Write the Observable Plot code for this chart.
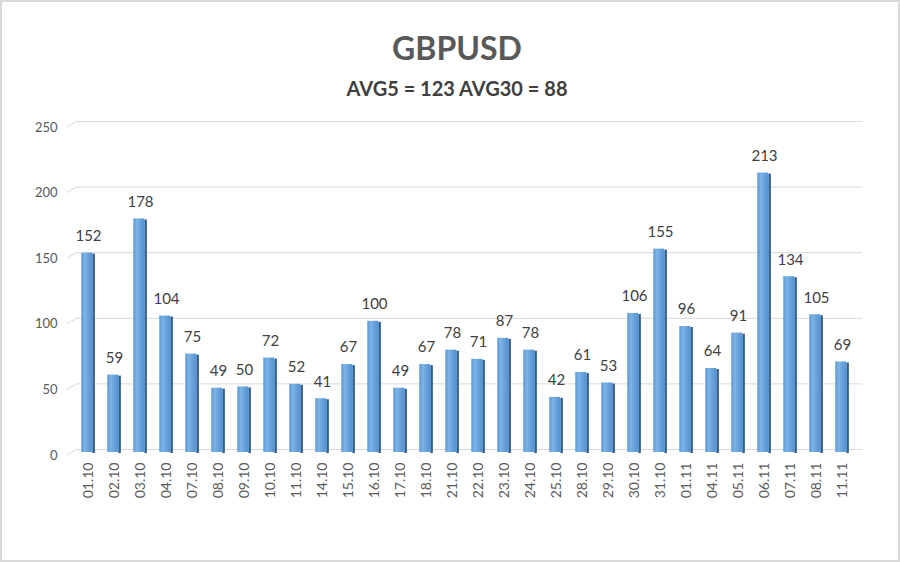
<!DOCTYPE html>
<html>
<head>
<meta charset="utf-8">
<script src="https://cdn.jsdelivr.net/npm/d3@7"></script>
<script src="https://cdn.jsdelivr.net/npm/@observablehq/plot@0.6"></script>
<style>
  html, body { margin: 0; padding: 0; background: #fff; }
  #wrap { position: relative; width: 900px; height: 562px; overflow: hidden; font-family: Lato, "Open Sans", sans-serif; background: #fff; }
  #frame { position: absolute; left: 0; top: 0; width: 900px; height: 562px; box-sizing: border-box; border: 2px solid #d9d9d9; pointer-events: none; }
  #head { position: relative; height: 110px; }
  #title { position: absolute; left: 0; width: 914px; top: 28px; line-height: 40px; text-align: center; font-size: 32px; font-weight: 700; color: #595959; }
  #sub { position: absolute; left: 0; width: 914px; top: 76px; line-height: 24px; text-align: center; font-size: 20px; font-weight: 700; color: #404040; }
  #chart svg { display: block; }
</style>
</head>
<body>
<div id="wrap">
  <div id="head">
    <div id="title">GBPUSD</div>
    <div id="sub">AVG5 = 123 AVG30 = 88</div>
  </div>
  <div id="chart"></div>
  <div id="frame"></div>
</div>
<script>
const dates = ["01.10","02.10","03.10","04.10","07.10","08.10","09.10","10.10","11.10","14.10",
               "15.10","16.10","17.10","18.10","21.10","22.10","23.10","24.10","25.10","28.10",
               "29.10","30.10","31.10","01.11","04.11","05.11","06.11","07.11","08.11","11.11"];
const values = [152,59,178,104,75,49,50,72,52,41,
                67,100,49,67,78,71,87,78,42,61,
                53,106,155,96,64,91,213,134,105,69];
const yTicks = [0,50,100,150,200,250];

const data = dates.map((d, i) => ({date: d, value: values[i]}));

const chart = Plot.plot({
  width: 900,
  height: 450,
  marginLeft: 72,
  marginRight: 43,
  marginTop: 17,
  marginBottom: 105,
  style: {fontFamily: "Lato, 'Open Sans', sans-serif", color: "#595959", background: "transparent"},
  x: {domain: dates, padding: 0, label: null},
  y: {domain: [0, 250], label: null},
  marks: [
    Plot.ruleY(yTicks, {stroke: "#d9d9d9", strokeWidth: 1, dx: 5, dy: -6}),
    Plot.barY(data, {x: "date", y: "value", fill: "url(#sideGrad)", insetLeft: 17.3, insetRight: 6.2, dy: -2}),
    Plot.barY(data, {x: "date", y: "value", fill: "url(#barGrad)", insetLeft: 6.3, insetRight: 8.8, dy: -3}),
    Plot.text(data, {x: "date", y: "value", text: d => String(d.value), dy: -20, fontSize: 15, fill: "#404040"}),
    Plot.axisY({ticks: yTicks, tickSize: 0, tickPadding: 15, fontSize: 13, label: null}),
    Plot.axisX({tickRotate: -90, tickSize: 0, tickPadding: 7, fontSize: 14, label: null})
  ]
});

const ns = "http://www.w3.org/2000/svg";
const defs = document.createElementNS(ns, "defs");
defs.innerHTML = `
  <linearGradient id="barGrad" x1="0" x2="1" y1="0" y2="0">
    <stop offset="0" stop-color="#5896d2"/>
    <stop offset="0.3" stop-color="#7db3e6"/>
    <stop offset="1" stop-color="#5592d0"/>
  </linearGradient>
  <linearGradient id="sideGrad" x1="0" x2="1" y1="0" y2="0">
    <stop offset="0" stop-color="#336ea8"/>
    <stop offset="1" stop-color="#1f4f7e"/>
  </linearGradient>`;
chart.insertBefore(defs, chart.firstChild);

// slanted left edges of the 3D back-wall gridlines, positioned by the y scale
const ys = chart.scale("y");
const g = d3.select(chart).insert("g", "g").attr("stroke", "#d9d9d9").attr("stroke-width", 1);
yTicks.forEach(t => {
  const y = ys.apply(t);
  g.append("line").attr("x1", 67).attr("y1", y).attr("x2", 77).attr("y2", y - 6);
});

document.getElementById("chart").appendChild(chart);
</script>
</body>
</html>
